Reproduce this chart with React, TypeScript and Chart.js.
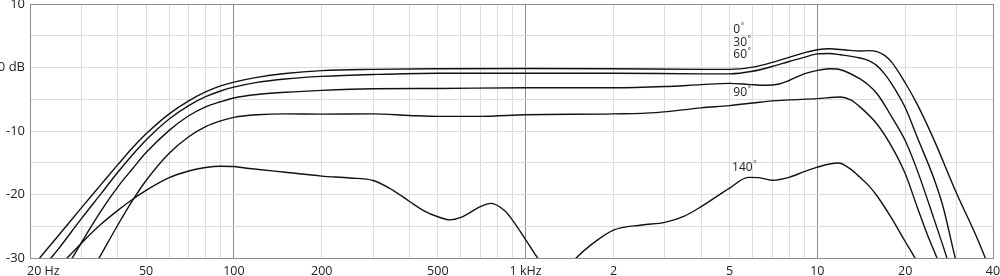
import React, { useEffect, useRef } from "react";
import { Chart, registerables } from "chart.js";

Chart.register(...registerables);

// Grid frequencies (log grid) and labelled ticks
const gridFreqs = [
  20, 30, 40, 50, 60, 70, 80, 90, 100, 200, 300, 400, 500, 600, 700, 800, 900,
  1000, 2000, 3000, 4000, 5000, 6000, 7000, 8000, 9000, 10000, 20000, 30000, 40000,
];
const majorFreqs = [100, 1000, 10000];
const xLabelValues = [20, 50, 100, 200, 500, 1000, 2000, 5000, 10000, 20000, 40000];
const xLabelTexts = ["20 Hz", "50", "100", "200", "500", "1 kHz", "2", "5", "10", "20", "40"];
const yLabelValues = [10, 0, -10, -20, -30];
const yLabelTexts = ["10", "0 dB", "-10", "-20", "-30"];

// 0°
const f0 = [20, 21.6, 25, 30, 35, 40, 45, 50, 60, 70, 80, 90, 100, 120, 150, 200, 300, 500, 1000, 2000, 4000, 5000, 6000, 7000, 8000, 9000, 10000, 11000, 12500, 14000, 15000, 16000, 17000, 18000, 20000, 22000, 25000, 30000, 35000, 40000];
const db0 = [-32, -30, -26.5, -22.1, -18.45, -15.3, -12.6, -10.45, -7.3, -5.25, -3.85, -2.9, -2.3, -1.55, -0.95, -0.5, -0.3, -0.2, -0.15, -0.2, -0.3, -0.3, 0.05, 0.8, 1.6, 2.3, 2.8, 2.95, 2.75, 2.6, 2.65, 2.5, 1.9, 0.8, -2.4, -5.8, -11.2, -19.8, -26.5, -33];

// 30°
const f30 = [20, 23.6, 25, 30, 35, 40, 45, 50, 60, 70, 80, 90, 100, 120, 150, 200, 300, 500, 1000, 2000, 4000, 5000, 6000, 7000, 8000, 9000, 10000, 11000, 12000, 14000, 15000, 16000, 17000, 18000, 20000, 22000, 25000, 27000, 29700, 32000];
const db30 = [-34, -30, -28.6, -23.8, -19.9, -16.5, -13.7, -11.4, -8.1, -6.0, -4.6, -3.7, -3.1, -2.35, -1.8, -1.4, -1.1, -0.9, -0.9, -0.9, -1.0, -1.0, -0.6, 0.15, 0.95, 1.6, 2.15, 2.2, 2.0, 1.5, 1.1, 0.3, -1.0, -2.6, -6.3, -11.0, -17.3, -22, -30, -35];

// 60°
const f60 = [20, 25, 27.9, 31, 35, 40, 45, 50, 60, 70, 80, 90, 100, 120, 150, 200, 300, 500, 1000, 2000, 3000, 4000, 5000, 5800, 6600, 7400, 8000, 9000, 10000, 11000, 12000, 14000, 15000, 16000, 18000, 20000, 22000, 25000, 27800, 30000];
const db60 = [-40, -33.5, -30, -26.5, -22.6, -18.8, -15.9, -13.4, -9.9, -7.6, -6.2, -5.4, -4.8, -4.25, -3.9, -3.6, -3.35, -3.3, -3.2, -3.2, -3.0, -2.7, -2.5, -2.65, -2.8, -2.6, -2.05, -1.0, -0.45, -0.2, -0.35, -1.8, -2.8, -4.1, -7.8, -11.5, -16.2, -23.6, -30, -35];

// 90°
const f90 = [25, 30, 34.5, 40, 45, 50, 60, 70, 80, 90, 100, 120, 150, 200, 300, 400, 500, 700, 1000, 2000, 2800, 4000, 5000, 6000, 7000, 8000, 10000, 12000, 13000, 14000, 16000, 18000, 20000, 22000, 24000, 25700, 28000];
const db90 = [-40, -34.8, -30, -24.8, -20.9, -17.8, -13.5, -10.9, -9.3, -8.4, -7.85, -7.45, -7.3, -7.35, -7.3, -7.55, -7.7, -7.7, -7.45, -7.3, -7.1, -6.35, -6.0, -5.6, -5.25, -5.1, -4.9, -4.65, -5.1, -6.2, -8.9, -12.5, -16.7, -22, -26.7, -30, -35];

// 140°
const f140 = [20, 25, 26.8, 31, 35, 40, 45, 50, 60, 70, 80, 90, 100, 113, 150, 200, 250, 300, 350, 400, 450, 500, 550, 600, 700, 760, 850, 900, 1000, 1100, 1250, 1400, 1490, 1700, 2000, 2500, 3000, 3500, 4000, 5000, 5800, 6300, 7000, 8000, 9000, 10000, 11000, 11800, 13000, 14000, 15000, 16000, 18000, 20000, 21600, 24000];
const db140 = [-36, -31.3, -30, -27.0, -24.7, -22.5, -20.75, -19.35, -17.35, -16.3, -15.75, -15.55, -15.6, -15.9, -16.5, -17.1, -17.4, -17.8, -19.3, -21.1, -22.6, -23.5, -24.0, -23.6, -21.9, -21.4, -22.6, -24, -27.1, -30, -32.5, -31.5, -30, -27.7, -25.6, -24.8, -24.4, -23.4, -21.9, -19.0, -17.3, -17.35, -17.75, -17.3, -16.4, -15.7, -15.2, -15.05, -16.0, -17.3, -18.6, -20.2, -23.8, -27.4, -30, -34];

// curve labels (data coordinates)
const curveLabelTexts = ["0", "30", "60", "90", "140"];
const curveLabelFreqs = [5150, 5150, 5150, 5150, 5100];
const curveLabelDbs = [6.0, 3.9, 2.0, -4.0, -15.8];

const FRAME = "#8c8c8c";
const GRID = "#dcdcdc";
const FONT = "'Open Sans', sans-serif";

const toPoints = (fs: number[], ds: number[]) => fs.map((f, i) => ({ x: f, y: ds[i] }));

export default function App() {
  const ref = useRef<HTMLCanvasElement | null>(null);

  useEffect(() => {
    document.body.style.margin = "0";
    const canvas = ref.current;
    if (!canvas) return;

    const series = [
      toPoints(f0, db0),
      toPoints(f30, db30),
      toPoints(f60, db60),
      toPoints(f90, db90),
      toPoints(f140, db140),
    ];

    const textPlugin = {
      id: "texts",
      afterDraw(chart: any) {
        const ctx = chart.ctx;
        const xs = chart.scales.x;
        const ys = chart.scales.y;
        ctx.save();
        ctx.fillStyle = "#222";
        ctx.font = `12.5px ${FONT}`;
        ctx.textBaseline = "alphabetic";
        xLabelValues.forEach((v, i) => {
          const px = xs.getPixelForValue(v);
          if (i === 0) {
            ctx.textAlign = "left";
            ctx.fillText(xLabelTexts[i], px - 3, 275);
          } else {
            ctx.textAlign = "center";
            ctx.fillText(xLabelTexts[i], px, 275);
          }
        });
        ctx.textAlign = "left";
        curveLabelTexts.forEach((t, i) => {
          const px = xs.getPixelForValue(curveLabelFreqs[i]);
          const py = ys.getPixelForValue(curveLabelDbs[i]);
          ctx.font = `12px ${FONT}`;
          ctx.textBaseline = "middle";
          ctx.fillText(t, px, py);
          const w = ctx.measureText(t).width;
          ctx.font = `8px ${FONT}`;
          ctx.fillText("°", px + w + 0.5, py - 4);
        });
        ctx.restore();
      },
    };

    const chart = new Chart(canvas, {
      type: "line",
      data: {
        datasets: series.map((pts) => ({
          data: pts,
          borderColor: "#111",
          borderWidth: 1.4,
          pointRadius: 0,
          fill: false,
          cubicInterpolationMode: "monotone" as const,
        })),
      },
      options: {
        responsive: false,
        animation: false,
        events: [],
        layout: { padding: { top: 4, right: 7, left: 0, bottom: 0 } },
        plugins: { legend: { display: false }, tooltip: { enabled: false } },
        scales: {
          x: {
            type: "logarithmic",
            min: 20,
            max: 40000,
            afterBuildTicks: (scale: any) => {
              scale.ticks = gridFreqs.map((v) => ({ value: v }));
            },
            afterFit: (scale: any) => {
              scale.height = 18;
              scale.paddingLeft = 0;
              scale.paddingRight = 0;
            },
            ticks: { display: false, autoSkip: false },
            grid: {
              drawTicks: false,
              lineWidth: 1,
              color: (c: any) => {
                const v = c.tick ? c.tick.value : 0;
                if (majorFreqs.includes(v) || v === 40000) return FRAME;
                return GRID;
              },
            },
            border: { display: true, color: FRAME, width: 1 },
          },
          y: {
            type: "linear",
            min: -30,
            max: 10,
            afterFit: (scale: any) => {
              scale.width = 30;
              scale.paddingTop = 0;
              scale.paddingBottom = 0;
            },
            ticks: {
              stepSize: 5,
              autoSkip: false,
              padding: 5,
              color: "#222",
              font: { family: FONT, size: 13 },
              callback: (v: any) => {
                const i = yLabelValues.indexOf(Number(v));
                return i >= 0 ? yLabelTexts[i] : "";
              },
            },
            grid: {
              drawTicks: false,
              color: (c: any) => (c.tick && c.tick.value === 10 ? FRAME : GRID),
            },
            border: { display: true, color: FRAME, width: 1 },
          },
        },
      },
      plugins: [textPlugin],
    });

    return () => chart.destroy();
  }, []);

  return (
    <div style={{ width: 1000, height: 276 }}>
      <canvas ref={ref} width={1000} height={276} style={{ display: "block" }} />
    </div>
  );
}
